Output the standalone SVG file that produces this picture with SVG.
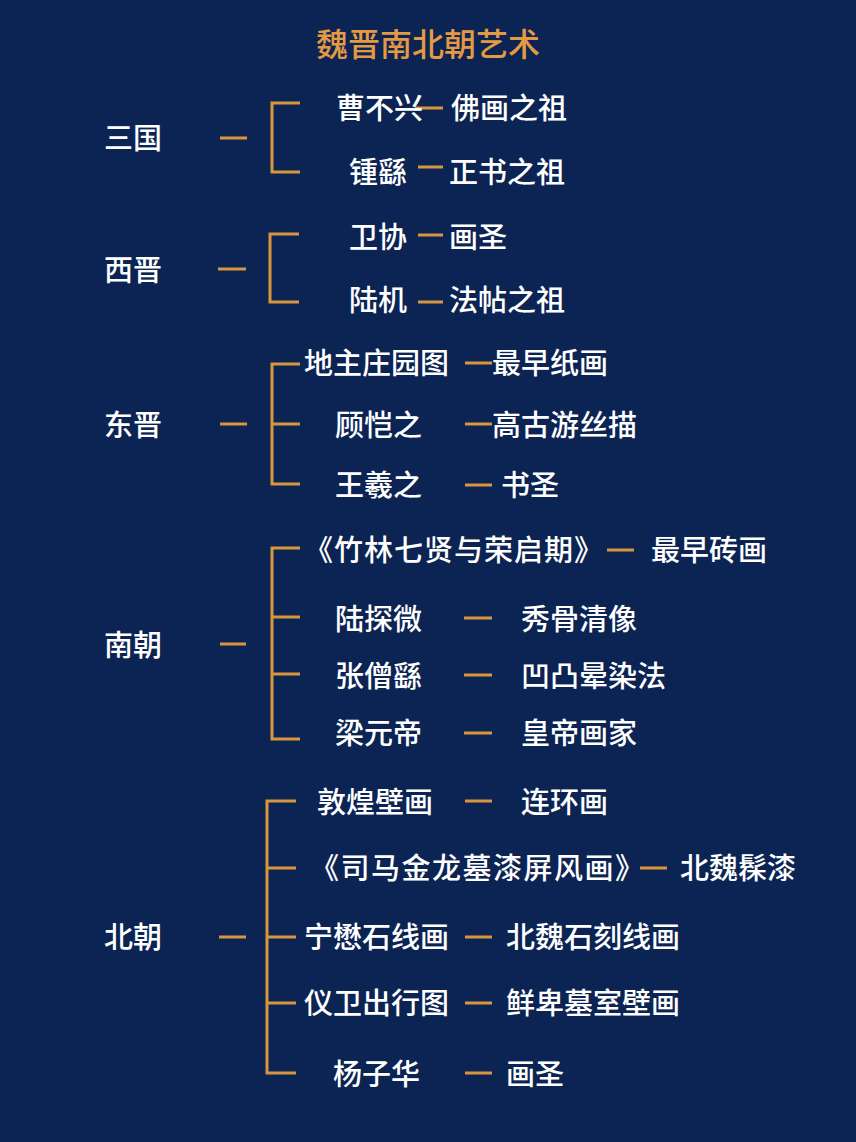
<svg xmlns="http://www.w3.org/2000/svg" width="856" height="1142" viewBox="0 0 856 1142">
<style>
.t{font-family:"Noto Sans CJK SC","Noto Sans",sans-serif;font-size:29px;font-weight:500;fill:#ffffff;dominant-baseline:central}
.title{font-family:"Noto Sans CJK SC","Noto Sans",sans-serif;font-size:32px;font-weight:500;fill:#e39a42;dominant-baseline:central;text-anchor:middle}
.c{fill:none;stroke:#d9963f;stroke-width:3}
</style>
<rect width="856" height="1142" fill="#0c2453"/>
<text class="title" x="428" y="42">魏晋南北朝艺术</text>
<g id="connectors">
<path class="c" d="M220 138H247M300 103H272V172H300M415 108H443M418 167H443"/>
<path class="c" d="M218 269H246M299 234H270V302H299M418 235H443M418 302H443"/>
<path class="c" d="M220 424H247M300 364H272V484H300M272 424H300M465 363H492M465 424H492M465 485H492"/>
<path class="c" d="M220 644H246M300 548H272V739H300M272 617H300M272 674H300M607 550H634M464 618H492M464 675H492M464 733H492"/>
<path class="c" d="M219 937H246M296 801H267V1073H296M267 868H296M267 937H296M267 1003H296M465 801H492M640 868H667M465 937H492M465 1003H492M465 1073H492"/>
</g>
<g id="sanguo"><text class="t" x="104" y="136">三国</text></g>
<g id="caobuxing"><text class="t" x="336" y="106">曹不兴</text></g>
<g id="fohua"><text class="t" x="451" y="106">佛画之祖</text></g>
<g id="zhongyao"><text class="t" x="349" y="170">锺繇</text></g>
<g id="zhengshu"><text class="t" x="449" y="170">正书之祖</text></g>
<g id="xijin"><text class="t" x="104" y="268">西晋</text></g>
<g id="weixie"><text class="t" x="349" y="235">卫协</text></g>
<g id="huasheng1"><text class="t" x="449" y="235">画圣</text></g>
<g id="luji"><text class="t" x="349" y="298">陆机</text></g>
<g id="fatie"><text class="t" x="449" y="298">法帖之祖</text></g>
<g id="dongjin"><text class="t" x="104" y="423">东晋</text></g>
<g id="dizhu"><text class="t" x="304" y="361">地主庄园图</text></g>
<g id="zuizao1"><text class="t" x="492" y="361">最早纸画</text></g>
<g id="gukaizhi"><text class="t" x="335" y="423">顾恺之</text></g>
<g id="gaogu"><text class="t" x="492" y="423">高古游丝描</text></g>
<g id="wangxizhi"><text class="t" x="335" y="483">王羲之</text></g>
<g id="shusheng"><text class="t" x="501" y="483">书圣</text></g>
<g id="nanchao"><text class="t" x="104" y="643">南朝</text></g>
<g id="zhulin"><text class="t" x="304" y="548" letter-spacing="1">《竹林七贤与荣启期》</text></g>
<g id="zuizao2"><text class="t" x="651" y="548">最早砖画</text></g>
<g id="lutanwei"><text class="t" x="335" y="617">陆探微</text></g>
<g id="xiugu"><text class="t" x="521" y="617">秀骨清像</text></g>
<g id="zhangsengyao"><text class="t" x="335" y="674">张僧繇</text></g>
<g id="aotu"><text class="t" x="521" y="674">凹凸晕染法</text></g>
<g id="liangyuandi"><text class="t" x="335" y="731">梁元帝</text></g>
<g id="huangdi"><text class="t" x="521" y="731">皇帝画家</text></g>
<g id="beichao"><text class="t" x="104" y="935">北朝</text></g>
<g id="dunhuang"><text class="t" x="317" y="800">敦煌壁画</text></g>
<g id="lianhuan"><text class="t" x="521" y="800">连环画</text></g>
<g id="sima"><text class="t" x="310" y="866" letter-spacing="1.5">《司马金龙墓漆屏风画》</text></g>
<g id="xiuqi"><text class="t" x="680" y="866">北魏髹漆</text></g>
<g id="ningmao"><text class="t" x="304" y="935">宁懋石线画</text></g>
<g id="shike"><text class="t" x="506" y="935">北魏石刻线画</text></g>
<g id="yiwei"><text class="t" x="304" y="1001">仪卫出行图</text></g>
<g id="xianbei"><text class="t" x="506" y="1001">鲜卑墓室壁画</text></g>
<g id="yangzihua"><text class="t" x="333" y="1072">杨子华</text></g>
<g id="huasheng2"><text class="t" x="506" y="1072">画圣</text></g>
</svg>
